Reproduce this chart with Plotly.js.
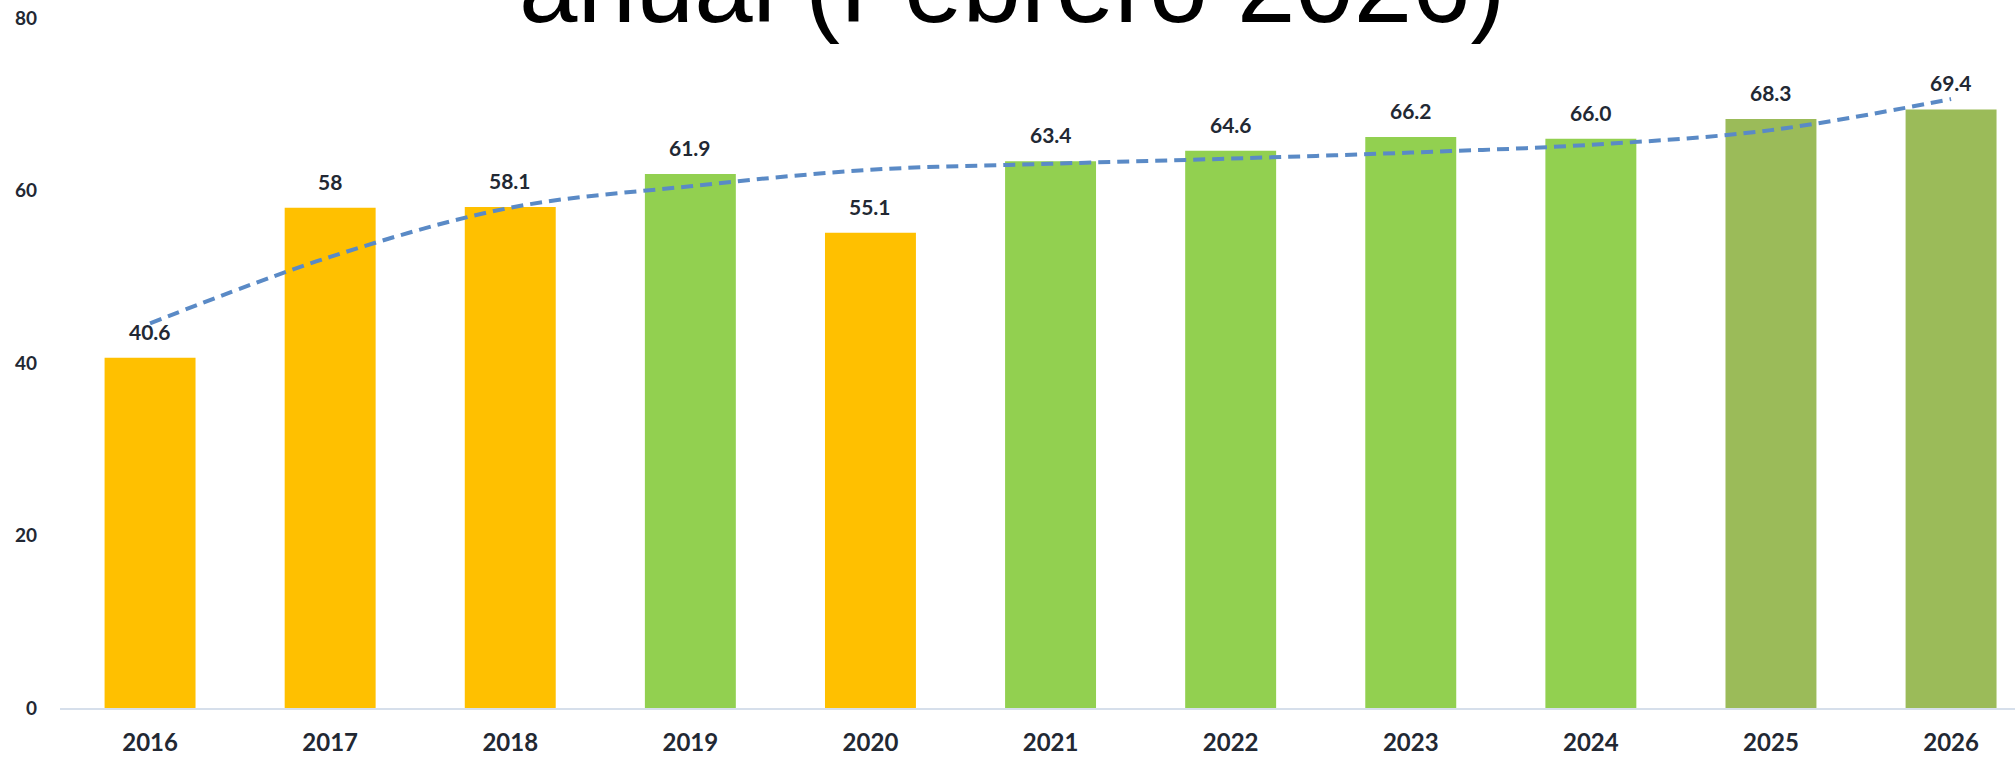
<!DOCTYPE html>
<html>
<head>
<meta charset="utf-8">
<script src="https://cdn.plot.ly/plotly-3.0.1.min.js"></script>
<style>
  html, body { margin: 0; padding: 0; background: #fff; }
  #chart { width: 2015px; height: 758px; }
</style>
</head>
<body>
<div id="chart"></div>
<script>
// values
let years = ['2016','2017','2018','2019','2020','2021','2022','2023','2024','2025','2026'];
let values = [40.6, 58, 58.1, 61.9, 55.1, 63.4, 64.6, 66.2, 66.0, 68.3, 69.4];
let valueLabels = ['40.6','58','58.1','61.9','55.1','63.4','64.6','66.2','66.0','68.3','69.4'];
let barColors = ['#FFC000','#FFC000','#FFC000','#92D050','#FFC000','#92D050','#92D050','#92D050','#92D050','#9BBB59','#9BBB59'];
let trend = [44.6, 52.3, 58.0, 60.5, 62.4, 63.1, 63.7, 64.4, 65.3, 67.0, 70.6];
let yTicks = [0, 20, 40, 60, 80];

let bars = {
  x: years,
  y: values,
  type: 'bar',
  width: 0.505,
  marker: {color: barColors},
  hoverinfo: 'x+y',
  showlegend: false
};

let trendLine = {
  x: years,
  y: trend,
  type: 'scatter',
  mode: 'lines',
  line: {color: '#5A8AC6', width: 4, dash: '12px,7px', shape: 'spline'},
  hoverinfo: 'skip',
  showlegend: false
};

// value labels above each bar (x given as category index)
let labels = [];
for (let i = 0; i < years.length; i++) {
  labels.push({
    xref: 'x',
    yref: 'y',
    x: i,
    y: values[i],
    text: valueLabels[i],
    showarrow: false,
    yanchor: 'bottom',
    yshift: 12,
    font: {family: 'Lato', size: 21, weight: 'bold', color: '#222833'}
  });
}

labels.push({
  xref: 'paper',
  yref: 'paper',
  x: 0.487,
  y: 1,
  yanchor: 'bottom',
  yshift: -28,
  text: 'anual (Febrero 2026)',
  showarrow: false,
  font: {family: 'Liberation Sans, Arial', size: 105, color: '#000'}
});

let layout = {
  width: 2015,
  height: 758,
  margin: {l: 60, r: 0, t: 18, b: 50},
  paper_bgcolor: '#fff',
  plot_bgcolor: '#fff',
  xaxis: {
    type: 'category',
    range: [-0.5, 10.355],
    showgrid: false,
    zeroline: false,
    showline: true,
    linecolor: '#D6DFEB',
    linewidth: 2,
    ticks: '',
    ticklabelstandoff: 12,
    tickfont: {family: 'Lato', size: 24, weight: 'bold', color: '#222833'}
  },
  yaxis: {
    range: [0, 80],
    tickvals: yTicks,
    showgrid: false,
    zeroline: false,
    showline: false,
    ticks: '',
    ticklabelstandoff: 22,
    tickfont: {family: 'Lato', size: 19, weight: 'bold', color: '#222833'}
  },
  annotations: labels
};

Plotly.newPlot('chart', [bars, trendLine], layout, {displayModeBar: false, staticPlot: true});
</script>
</body>
</html>
